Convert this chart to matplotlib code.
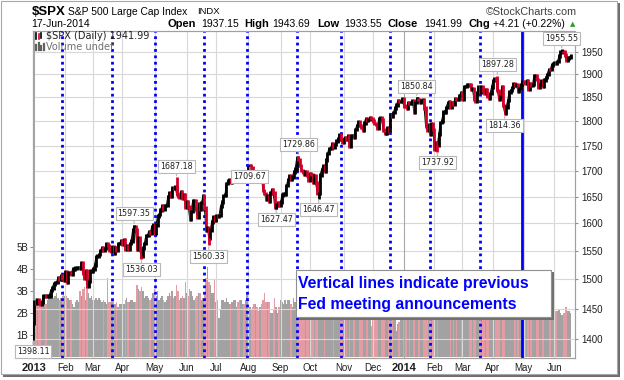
import numpy as np
import pandas as pd
import matplotlib
matplotlib.use('Agg')
import matplotlib.pyplot as plt
from matplotlib.lines import Line2D
from matplotlib.patches import Rectangle

plt.rcParams['font.family'] = ['Liberation Sans', 'DejaVu Sans']

# NYSE holidays in the period
holidays = ['2013-01-01', '2013-01-21', '2013-02-18', '2013-03-29', '2013-05-27',
            '2013-07-04', '2013-09-02', '2013-11-28', '2013-12-25', '2014-01-01',
            '2014-01-20', '2014-02-17', '2014-04-18', '2014-05-26']

# daily closes
dec_2012 = [1426]
jan_2013 = [1462, 1459, 1466, 1461, 1457, 1461, 1472, 1472, 1471, 1472, 1472, 1481, 1485, 1492,
            1495, 1495, 1503, 1500, 1507, 1502, 1498]
feb_2013 = [1513, 1495, 1511, 1512, 1509, 1518, 1518, 1520, 1521, 1521, 1519, 1530, 1511, 1502,
            1515, 1488, 1496, 1515, 1515]
mar_2013 = [1518, 1525, 1540, 1541, 1544, 1551, 1556, 1552, 1554, 1563, 1560, 1552, 1549, 1558,
            1546, 1556, 1551, 1563, 1563, 1569]
apr_2013 = [1562, 1570, 1553, 1559, 1553, 1563, 1568, 1588, 1593, 1588, 1553, 1574, 1552, 1541,
            1555, 1563, 1578, 1578, 1585, 1582, 1594, 1598]
may_2013 = [1582, 1597, 1614, 1617, 1625, 1633, 1626, 1633, 1633, 1650, 1658, 1650, 1667, 1666,
            1669, 1655, 1650, 1649, 1660, 1648, 1654, 1631]
jun_2013 = [1640, 1631, 1608, 1622, 1643, 1643, 1627, 1612, 1636, 1626, 1639, 1651, 1629, 1588,
            1592, 1573, 1588, 1603, 1613, 1606]
jul_2013 = [1615, 1614, 1615, 1632, 1640, 1652, 1653, 1675, 1680, 1683, 1677, 1680, 1689, 1692,
            1696, 1695, 1686, 1690, 1691, 1685, 1685, 1686]
aug_2013 = [1706, 1710, 1707, 1698, 1690, 1697, 1691, 1689, 1694, 1685, 1662, 1656, 1646, 1652,
            1642, 1657, 1664, 1657, 1630, 1634, 1638, 1633]
sep_2013 = [1640, 1653, 1655, 1655, 1671, 1683, 1690, 1683, 1688, 1698, 1704, 1725, 1722, 1710,
            1701, 1698, 1693, 1699, 1692, 1682]
oct_2013 = [1695, 1693, 1678, 1691, 1676, 1656, 1656, 1692, 1703, 1710, 1699, 1721, 1734, 1744,
            1744, 1754, 1747, 1752, 1759, 1763, 1772, 1763, 1757]
nov_2013 = [1762, 1767, 1762, 1771, 1748, 1770, 1771, 1768, 1783, 1791, 1798, 1791, 1787, 1781,
            1796, 1805, 1802, 1803, 1808, 1806]
dec_2013 = [1800, 1795, 1793, 1785, 1806, 1808, 1802, 1782, 1775, 1775, 1787, 1781, 1811, 1810,
            1818, 1828, 1834, 1842, 1841, 1841, 1848]
jan_2014 = [1832, 1831, 1827, 1838, 1837, 1838, 1843, 1819, 1839, 1848, 1846, 1839, 1843, 1845,
            1828, 1790, 1782, 1792, 1774, 1794, 1783]
feb_2014 = [1742, 1755, 1751, 1774, 1797, 1800, 1819, 1819, 1829, 1838, 1840, 1829, 1839, 1836,
            1848, 1846, 1846, 1854, 1859]
mar_2014 = [1845, 1873, 1873, 1877, 1878, 1877, 1867, 1868, 1846, 1841, 1859, 1872, 1861, 1872,
            1866, 1858, 1866, 1852, 1849, 1858, 1872]
apr_2014 = [1886, 1891, 1889, 1865, 1845, 1852, 1872, 1833, 1816, 1830, 1843, 1862, 1865, 1871,
            1880, 1875, 1878, 1863, 1869, 1878, 1884]
may_2014 = [1883, 1881, 1885, 1868, 1879, 1876, 1878, 1897, 1897, 1889, 1871, 1878, 1885, 1873,
            1888, 1893, 1900, 1911, 1910, 1920, 1924]
jun_2014 = [1925, 1924, 1928, 1940, 1949, 1951, 1950, 1943, 1931, 1936, 1937, 1942]

# daily volume in billions
vol_dec_2012 = [3.1]
vol_jan_2013 = [2.9, 2.7, 2.6, 2.6, 2.5, 2.6, 2.8, 2.6, 2.4, 2.6, 2.7, 2.8, 3.0, 2.7, 2.8, 2.9, 2.7,
                2.6, 2.7, 2.8, 3.0]
vol_feb_2013 = [2.8, 2.8, 2.7, 2.6, 2.6, 2.4, 2.3, 2.5, 2.6, 2.5, 3.0, 2.8, 3.1, 3.2, 2.6, 3.2, 2.9,
                2.7, 2.8]
vol_mar_2013 = [2.6, 2.6, 2.7, 2.6, 2.7, 2.6, 2.5, 2.6, 2.5, 2.4, 3.6, 2.5, 2.5, 2.6, 2.6, 2.4, 2.5,
                2.3, 2.4, 2.4]
vol_apr_2013 = [2.3, 2.4, 2.6, 2.7, 2.5, 2.5, 2.6, 2.6, 2.5, 2.5, 3.3, 3.1, 3.0, 3.2, 3.0, 2.7, 2.8,
                2.8, 2.7, 2.6, 2.7, 2.9]
vol_may_2013 = [3.1, 2.8, 3.0, 2.6, 2.7, 2.8, 2.6, 2.5, 2.6, 2.8, 2.9, 2.8, 3.0, 2.7, 2.8, 3.3, 3.0,
                2.6, 2.7, 2.8, 2.7, 3.4]
vol_jun_2013 = [2.9, 2.8, 3.1, 3.0, 2.8, 2.6, 2.7, 2.8, 2.9, 2.9, 2.6, 2.7, 2.9, 3.6, 4.1, 3.4, 3.3,
                2.9, 2.9, 3.5]
vol_jul_2013 = [2.5, 2.6, 1.8, 2.2, 2.6, 2.6, 2.5, 2.7, 2.5, 2.4, 2.4, 2.5, 2.6, 2.6, 2.3, 2.5, 2.6,
                2.6, 2.4, 2.4, 2.6, 2.9]
vol_aug_2013 = [2.6, 2.3, 2.2, 2.3, 2.4, 2.4, 2.3, 2.1, 2.3, 2.4, 2.6, 2.9, 2.5, 2.5, 2.5, 2.0, 2.0,
                2.2, 2.7, 2.3, 2.0, 2.3]
vol_sep_2013 = [2.6, 2.5, 2.4, 2.6, 2.4, 2.6, 2.6, 2.4, 2.3, 2.7, 2.5, 3.0, 3.2, 3.7, 2.6, 2.5, 2.4,
                2.4, 2.3, 2.5]
vol_oct_2013 = [2.4, 2.5, 2.7, 2.3, 2.3, 2.7, 2.8, 2.9, 2.6, 2.3, 2.5, 2.6, 2.8, 2.9, 2.6, 2.8, 2.8,
                2.5, 2.5, 2.6, 2.8, 2.9, 3.0]
vol_nov_2013 = [2.5, 2.4, 2.5, 2.6, 2.9, 2.6, 2.2, 2.5, 2.5, 2.6, 2.8, 2.6, 2.6, 2.6, 2.5, 2.6, 2.5,
                2.6, 2.3, 1.4]
vol_dec_2013 = [2.6, 2.7, 2.8, 2.7, 2.4, 2.4, 2.4, 2.6, 2.6, 2.6, 2.6, 2.4, 2.9, 2.7, 3.8, 2.2, 1.2,
                1.5, 1.6, 1.7, 1.8]
vol_jan_2014 = [2.6, 2.6, 2.8, 2.8, 2.8, 2.7, 2.9, 2.9, 2.8, 2.8, 2.7, 3.0, 2.8, 2.8, 2.8, 3.4, 3.2,
                2.7, 3.1, 3.0, 3.0]
vol_feb_2014 = [3.2, 3.0, 3.0, 2.9, 2.6, 2.4, 2.6, 2.5, 2.6, 2.5, 2.7, 2.7, 2.6, 2.8, 2.4, 2.4, 2.6,
                2.5, 2.8]
vol_mar_2014 = [2.8, 2.8, 2.6, 2.7, 2.6, 2.4, 2.6, 2.7, 2.8, 2.8, 2.5, 2.5, 2.7, 2.7, 3.3, 2.7, 2.7,
                2.7, 2.5, 2.5, 2.7]
vol_apr_2014 = [2.6, 2.5, 2.5, 3.0, 3.1, 2.9, 2.6, 3.0, 3.1, 2.8, 2.7, 2.6, 2.5, 2.3, 2.4, 2.5, 2.4,
                2.5, 2.6, 2.4, 2.6]
vol_may_2014 = [2.6, 2.5, 2.3, 2.5, 2.5, 2.5, 2.3, 2.3, 2.3, 2.3, 2.6, 2.3, 2.2, 2.2, 2.2, 2.1, 1.9,
                2.1, 2.0, 2.1, 2.2]
vol_jun_2014 = [2.2, 2.1, 2.1, 2.2, 2.0, 1.9, 2.0, 2.0, 2.3, 2.1, 2.1, 2.0]

# labelled highs / lows
label_dates = ['2012-12-31', '2013-04-11', '2013-04-18', '2013-05-22', '2013-06-24',
               '2013-08-02', '2013-08-28', '2013-09-19', '2013-10-09', '2014-01-15',
               '2014-02-05', '2014-04-04', '2014-04-11', '2014-06-09']
label_values = [1398.11, 1597.35, 1536.03, 1687.18, 1560.33, 1709.67, 1627.47, 1729.86,
                1646.47, 1850.84, 1737.92, 1897.28, 1814.36, 1955.55]

# Fed announcement days (last one drawn solid)
fed_dates = ['2013-01-30', '2013-03-20', '2013-05-01', '2013-06-19', '2013-07-31',
             '2013-09-18', '2013-10-30', '2013-12-18', '2014-01-29', '2014-03-19',
             '2014-04-30']

price_ticks = list(range(1400, 1951, 50))
vol_ticks = [1, 2, 3, 4, 5]
month_names = ['Jan', 'Feb', 'Mar', 'Apr', 'May', 'Jun', 'Jul', 'Aug', 'Sep', 'Oct', 'Nov', 'Dec']

days = pd.bdate_range('2012-12-31', '2014-06-17')
days = days[~days.isin(pd.to_datetime(holidays))]

closes = np.array(dec_2012 + jan_2013 + feb_2013 + mar_2013 + apr_2013 + may_2013 + jun_2013
                  + jul_2013 + aug_2013 + sep_2013 + oct_2013 + nov_2013 + dec_2013 + jan_2014
                  + feb_2014 + mar_2014 + apr_2014 + may_2014 + jun_2014, dtype=float)
volume = np.array(vol_dec_2012 + vol_jan_2013 + vol_feb_2013 + vol_mar_2013 + vol_apr_2013
                  + vol_may_2013 + vol_jun_2013 + vol_jul_2013 + vol_aug_2013 + vol_sep_2013
                  + vol_oct_2013 + vol_nov_2013 + vol_dec_2013 + vol_jan_2014 + vol_feb_2014
                  + vol_mar_2014 + vol_apr_2014 + vol_may_2014 + vol_jun_2014)
assert len(closes) == len(days) == len(volume)

x = np.arange(len(days))
prev = np.r_[closes[0], closes[:-1]]
up = closes >= prev

W, H = 624, 380
fig = plt.figure(figsize=(W / 100, H / 100), dpi=100)


def fx(px):
    return px / W


def fy(py):
    return 1 - py / H


# outer frame with shadow
fig.add_artist(Rectangle((fx(3), fy(377)), fx(617), 374 / H, transform=fig.transFigure,
                         fc='#6e6e6e', ec='none', zorder=-3))
fig.add_artist(Rectangle((fx(0.5), fy(374)), fx(616), 373.5 / H, transform=fig.transFigure,
                         fc='white', ec='#a8a8a8', lw=0.8, zorder=-2))

ax_vol = fig.add_axes([fx(33), fy(358), fx(575 - 33), (358 - 30.7) / H])
ax_price = ax_vol.twinx()

# volume
ax_vol.bar(x, volume, width=1.0, color=np.where(up, '#a2a2a2', '#e39ca4'), linewidth=0)
ax_vol.set_ylim(-0.045, 14.88)
ax_vol.set_yticks(vol_ticks)
ax_vol.set_yticklabels([f'{v}B' for v in vol_ticks])

# grid
ax_price.set_yscale('log')
ax_price.set_ylim(1370.2, 1997.8)
ax_price.set_yticks(price_ticks)
ax_price.set_yticklabels([str(v) for v in price_ticks])
ax_price.yaxis.set_minor_locator(matplotlib.ticker.NullLocator())
for v in price_ticks:
    ax_price.axhline(v, color='#d8d8d8', lw=0.8, zorder=0)

month_pos, month_lbl = [], []
for i in range(1, len(days)):
    if days[i].month != days[i - 1].month:
        month_pos.append(i)
        month_lbl.append(str(days[i].year) if days[i].month == 1 else month_names[days[i].month - 1])
for p, lbl in zip(month_pos, month_lbl):
    ax_price.axvline(p, color='#a8a8a8' if lbl.isdigit() else '#d8d8d8', lw=0.8, zorder=0)

# Fed lines
for k, d in enumerate(fed_dates):
    i = days.get_loc(pd.Timestamp(d))
    if k == len(fed_dates) - 1:
        ax_price.axvline(i, color='#0000ff', lw=2, zorder=1)
    else:
        ax_price.axvline(i, color='#0000ff', lw=2, ls=(0, (1, 1.3)), zorder=1)

# price bars
bar_colors = np.where(up, '#000000', '#d4002a')
ax_price.plot(x, closes, color='#000000', lw=0.7, zorder=2)
ax_price.vlines(x, np.minimum(prev, closes) * 0.998, np.maximum(prev, closes) * 1.002,
                colors=bar_colors, lw=2.0, zorder=3)

for d, v in zip(label_dates, label_values):
    i = days.get_loc(pd.Timestamp(d))
    ax_price.vlines(i, min(v, closes[i]), max(v, closes[i]), colors=bar_colors[i], lw=2.0, zorder=3)
    off = 11 if v > closes[i] else -11
    ax_price.annotate(f'{v:.2f}', (i, v), xytext=(0, off), textcoords='offset pixels',
                      ha='center', va='center', fontsize=5.8, family='DejaVu Sans', color='#202020',
                      bbox=dict(boxstyle='square,pad=0.25', fc='white', ec='#b8b8b8', lw=0.8),
                      arrowprops=dict(arrowstyle='-', color='#b8b8b8', lw=0.8, shrinkA=0, shrinkB=1),
                      zorder=5)

ax_vol.set_xlim(0, 370)
ax_vol.set_xticks(month_pos)
ax_vol.set_xticklabels(month_lbl)
for t in ax_vol.get_xticklabels():
    if t.get_text().isdigit():
        t.set_fontweight('bold')
        t.set_fontsize(8)
    else:
        t.set_fontsize(7)

ax_vol.tick_params(axis='x', length=0, pad=3.5, colors='#202020')
ax_vol.tick_params(axis='y', length=2.5, pad=1, labelsize=7, colors='#202020', color='#909090')
ax_price.tick_params(axis='y', length=2.5, pad=2.3, labelsize=7, colors='#202020', color='#909090')
for a in (ax_vol, ax_price):
    for s in a.spines.values():
        s.set_color('#a0a0a0')
        s.set_linewidth(0.8)
ax_price.spines['right'].set_linestyle((0, (1, 1.5)))

# header
fig.text(fx(31.5), fy(12), '$SPX', fontsize=9.5, fontweight='bold', va='center')
fig.text(fx(68.5), fy(12), 'S&P 500 Large Cap Index', fontsize=7.4, va='center')
fig.text(fx(197.5), fy(12), 'INDX', fontsize=6.8, va='center')
fig.text(fx(486), fy(12), '\u00a9StockCharts.com', fontsize=7.8, va='center', color='#404040')
fig.text(fx(31.5), fy(24), '17-Jun-2014', fontsize=7.5, va='center')
for xp, s, bold in [(167.5, 'Open', True), (201, '1937.15', False), (244.3, 'High', True),
                    (272.6, '1943.69', False), (316.8, 'Low', True), (344.2, '1933.55', False),
                    (388, 'Close', True), (424.6, '1941.99', False), (468.8, 'Chg', True),
                    (493.4, '+4.21 (+0.22%)', False)]:
    fig.text(fx(xp), fy(24), s, fontsize=8 if bold else 7.5, va='center',
             fontweight='bold' if bold else 'normal')
fig.text(fx(573), fy(24.5), '\u25b2', fontsize=5, va='center', ha='center', color='#2e9b2e',
         family='DejaVu Sans')

# legend inside plot
fig.add_artist(Line2D([fx(36), fx(36)], [fy(38.5), fy(33)], color='black', lw=1.2))
fig.add_artist(Line2D([fx(38.5), fx(38.5)], [fy(39), fy(34)], color='#d4002a', lw=1.2))
fig.add_artist(Line2D([fx(41), fx(41)], [fy(37.5), fy(32.5)], color='black', lw=1.2))
fig.text(fx(46.5), fy(36), '$SPX (Daily) 1941.99', fontsize=7, family='DejaVu Sans',
         va='center', color='#202020')
for xp, top in [(36, 44.5), (38.5, 43), (41, 45.5), (43.5, 44)]:
    fig.add_artist(Line2D([fx(xp), fx(xp)], [fy(50), fy(top)], color='#606060', lw=1.6))
fig.text(fx(46.5), fy(47), 'Volume undef', fontsize=7, family='DejaVu Sans', va='center',
         color='#707070')

# Fed note box
fig.add_artist(Rectangle((fx(298.5), fy(319.5)), fx(255), 47.5 / H, transform=fig.transFigure,
                         fc='#707070', ec='none', zorder=4))
fig.add_artist(Rectangle((fx(296), fy(317)), fx(255), 47 / H, transform=fig.transFigure,
                         fc='white', ec='#909090', lw=0.8, zorder=4))
fig.text(fx(298), fy(283.5), 'Vertical lines indicate previous', fontsize=11.3,
         fontweight='bold', color='#0000ff', va='center', zorder=5)
fig.text(fx(298), fy(304.5), 'Fed meeting announcements', fontsize=11.3,
         fontweight='bold', color='#0000ff', va='center', zorder=5)

fig.savefig('out.png', dpi=100)
